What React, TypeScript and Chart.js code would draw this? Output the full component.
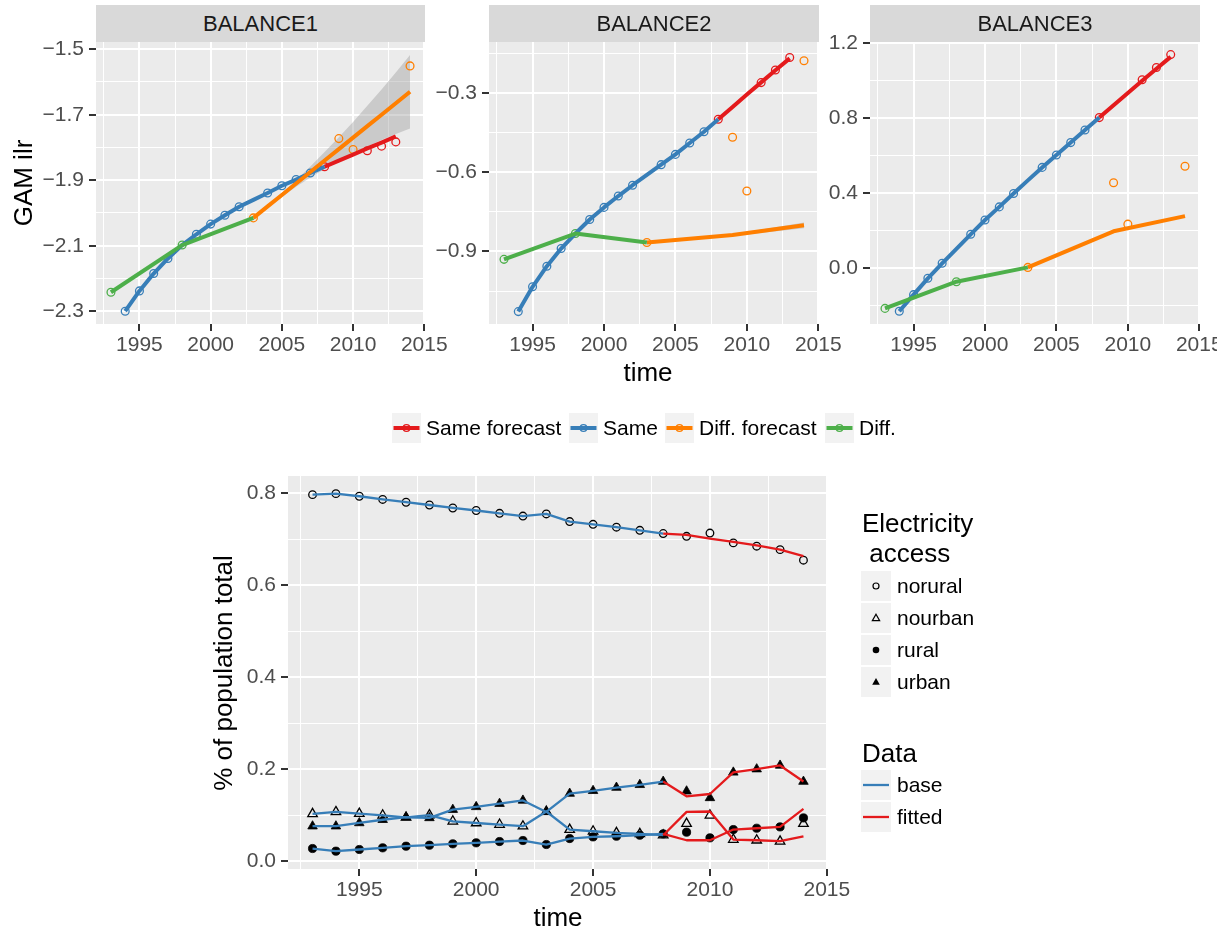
import React, { useEffect, useRef } from 'react';
import { Chart, registerables } from 'chart.js';
Chart.register(...registerables);

const FONT = '"Liberation Sans", Arial, Helvetica, sans-serif';
const RED = '#E41A1C';
const BLUE = '#377EB8';
const ORANGE = '#FF7F00';
const GREEN = '#4DAF4A';

// ---------- shared x axis ----------
const X_MIN = 1991.95;
const X_MAX = 2015.05;
const xMajor = [1995, 2000, 2005, 2010, 2015];
const xMinor = [1992.5, 1997.5, 2002.5, 2007.5, 2012.5];
const xLabels = ['1995', '2000', '2005', '2010', '2015'];

// ---------- top facets ----------
const facetNames = ['BALANCE1', 'BALANCE2', 'BALANCE3'];
const topLegendLabels = ['Same forecast', 'Same', 'Diff. forecast', 'Diff.'];
const topLegendColors = [RED, BLUE, ORANGE, GREEN];

const sameYears = [1994, 1995, 1996, 1997, 1998, 1999, 2000, 2001, 2002, 2003, 2004, 2005, 2006, 2007, 2008];
const samePtYears = [1994, 1995, 1996, 1997, 1999, 2000, 2001, 2002, 2004, 2005, 2006, 2007];
const sameFcYears = [2008, 2009, 2010, 2011, 2012, 2013];
const sameFcPtYears = [2008, 2011, 2012, 2013];
const diffYears = [1993, 1998, 2003];
const diffPtYears = [1993, 1998];
const diffFcPtYears = [2003, 2009, 2010, 2014];

// BALANCE1
const b1Same = [-2.300, -2.238, -2.185, -2.139, -2.098, -2.065, -2.034, -2.007, -1.981, -1.960, -1.939, -1.917, -1.898, -1.878, -1.859];
const b1SamePts = [-2.300, -2.238, -2.185, -2.139, -2.065, -2.034, -2.007, -1.981, -1.939, -1.917, -1.898, -1.878];
const b1SameFc = [-1.859, -1.840, -1.822, -1.803, -1.785, -1.766];
const b1SameFcPts = [-1.859, -1.810, -1.796, -1.783];
const b1Diff = [-2.242, -2.098, -2.015];
const b1DiffPts = [-2.242, -2.098];
const b1DiffFcYears = [2003, 2004, 2005, 2006, 2007, 2008, 2009, 2010, 2011, 2012, 2013, 2014];
const b1DiffFc = [-2.015, -1.980, -1.945, -1.910, -1.875, -1.840, -1.805, -1.770, -1.735, -1.700, -1.665, -1.630];
const b1BandLow = [-2.018, -1.984, -1.951, -1.920, -1.892, -1.866, -1.841, -1.818, -1.797, -1.777, -1.759, -1.742];
const b1BandHigh = [-2.012, -1.976, -1.939, -1.900, -1.858, -1.814, -1.769, -1.722, -1.673, -1.623, -1.571, -1.518];
const b1DiffFcPts = [-2.015, -1.773, -1.806, -1.551];
const b1YMajor = [-2.3, -2.1, -1.9, -1.7, -1.5];
const b1YMinor = [-2.2, -2.0, -1.8, -1.6];
const b1YLabels = ['\u22122.3', '\u22122.1', '\u22121.9', '\u22121.7', '\u22121.5'];

// BALANCE2
const b2Same = [-1.128, -1.034, -0.956, -0.889, -0.832, -0.779, -0.733, -0.690, -0.649, -0.610, -0.571, -0.532, -0.489, -0.446, -0.399];
const b2SamePts = [-1.128, -1.034, -0.956, -0.889, -0.779, -0.733, -0.690, -0.649, -0.571, -0.532, -0.489, -0.446];
const b2SameFc = [-0.399, -0.352, -0.305, -0.259, -0.213, -0.168];
const b2SameFcPts = [-0.399, -0.260, -0.212, -0.165];
const b2Diff = [-0.930, -0.832, -0.866];
const b2DiffPts = [-0.930, -0.832];
const b2DiffFcYears = [2003, 2009, 2014];
const b2DiffFc = [-0.866, -0.838, -0.801];
const b2BandLow = [-0.867, -0.841, -0.812];
const b2BandHigh = [-0.865, -0.835, -0.790];
const b2DiffFcPts = [-0.866, -0.467, -0.671, -0.177];
const b2YMajor = [-0.9, -0.6, -0.3];
const b2YMinor = [-1.05, -0.75, -0.45, -0.15];
const b2YLabels = ['\u22120.9', '\u22120.6', '\u22120.3'];

// BALANCE3
const b3Same = [-0.228, -0.140, -0.053, 0.027, 0.104, 0.181, 0.257, 0.327, 0.398, 0.468, 0.537, 0.603, 0.669, 0.736, 0.802];
const b3SamePts = [-0.228, -0.140, -0.053, 0.027, 0.181, 0.257, 0.327, 0.398, 0.537, 0.603, 0.669, 0.736];
const b3SameFc = [0.802, 0.868, 0.933, 0.998, 1.062, 1.125];
const b3SameFcPts = [0.802, 1.003, 1.068, 1.137];
const b3Diff = [-0.213, -0.071, 0.005];
const b3DiffPts = [-0.213, -0.071];
const b3DiffFcYears = [2003, 2009, 2014];
const b3DiffFc = [0.005, 0.197, 0.278];
const b3BandLow: number[] = [];
const b3BandHigh: number[] = [];
const b3DiffFcPts = [0.005, 0.455, 0.235, 0.543];
const b3YMajor = [0.0, 0.4, 0.8, 1.2];
const b3YMinor = [-0.2, 0.2, 0.6, 1.0];
const b3YLabels = ['0.0', '0.4', '0.8', '1.2'];

// ---------- bottom chart ----------
const years = [1993, 1994, 1995, 1996, 1997, 1998, 1999, 2000, 2001, 2002, 2003, 2004, 2005, 2006, 2007, 2008, 2009, 2010, 2011, 2012, 2013, 2014];
const baseYears = [1993, 1994, 1995, 1996, 1997, 1998, 1999, 2000, 2001, 2002, 2003, 2004, 2005, 2006, 2007, 2008];
const fitYears = [2008, 2009, 2010, 2011, 2012, 2013, 2014];
const norural = [0.7965, 0.7987, 0.793, 0.786, 0.780, 0.774, 0.7675, 0.762, 0.756, 0.750, 0.7545, 0.738, 0.732, 0.7257, 0.719, 0.712, 0.706, 0.713, 0.6916, 0.6845, 0.677, 0.654];
const noruralFit = [0.712, 0.709, 0.701, 0.694, 0.686, 0.677, 0.663];
const nourban = [0.1027, 0.107, 0.1034, 0.0997, 0.095, 0.100, 0.0867, 0.083, 0.0796, 0.076, 0.108, 0.0687, 0.065, 0.0615, 0.0594, 0.0564, 0.0817, 0.0997, 0.047, 0.0455, 0.043, 0.0817];
const nourbanFit = [0.0564, 0.107, 0.108, 0.047, 0.0455, 0.0434, 0.054];
const rural = [0.0275, 0.0217, 0.0254, 0.029, 0.0325, 0.0347, 0.0377, 0.0399, 0.0427, 0.0449, 0.0362, 0.0492, 0.0528, 0.0542, 0.0564, 0.0594, 0.063, 0.0507, 0.0687, 0.0716, 0.0745, 0.094];
const ruralFit = [0.0594, 0.0455, 0.0455, 0.0687, 0.0716, 0.0745, 0.1135];
const urban = [0.076, 0.076, 0.083, 0.090, 0.0955, 0.094, 0.112, 0.118, 0.125, 0.132, 0.107, 0.147, 0.153, 0.160, 0.166, 0.173, 0.152, 0.1375, 0.193, 0.200, 0.208, 0.173];
const urbanFit = [0.173, 0.141, 0.146, 0.193, 0.200, 0.208, 0.173];
const accessLabels = ['norural', 'nourban', 'rural', 'urban'];
const dataLabels = ['base', 'fitted'];
const bYMajor = [0.0, 0.2, 0.4, 0.6, 0.8];
const bYMinor = [0.1, 0.3, 0.5, 0.7];
const bYLabels = ['0.0', '0.2', '0.4', '0.6', '0.8'];

// ---------- layout ----------
const TOP_PLOT_TOP = 42;
const TOP_PLOT_H = 282;
const PAD_T = 20;
const PAD_R = 35;
const YAX_W = 70;
const XAX_H = 45;
const panelLayout = [
  { left: 96, width: 329, yMin: -2.339, yMax: -1.478 },
  { left: 489, width: 330, yMin: -1.175, yMax: -0.106 },
  { left: 870, width: 330, yMin: -0.296, yMax: 1.204 },
];
const BOT = { left: 288, top: 476, width: 540, height: 393, yAx: 80, yMin: -0.017, yMax: 0.837 };

const xy = (xs: number[], ys: number[]) => xs.map((x, i) => ({ x, y: ys[i] }));

const bgPlugin = {
  id: 'panelBg',
  beforeDraw(chart: any) {
    const { ctx, chartArea: a } = chart;
    ctx.save();
    ctx.fillStyle = '#EBEBEB';
    ctx.fillRect(a.left, a.top, a.right - a.left, a.bottom - a.top);
    ctx.restore();
  },
};

function makeAxis(kind: 'x' | 'y', min: number, max: number, majors: number[], minors: number[], labels: string[], fit: number) {
  const all = [...minors, ...majors].sort((a, b) => a - b);
  const isMajor = (v: number) => majors.some((m) => Math.abs(m - v) < 1e-9);
  return {
    type: 'linear',
    position: kind === 'x' ? 'bottom' : 'left',
    min,
    max,
    afterBuildTicks: (s: any) => {
      s.ticks = all.map((v) => ({ value: v }));
    },
    afterFit: (s: any) => {
      if (kind === 'x') s.height = fit;
      else s.width = fit;
    },
    ticks: {
      autoSkip: false,
      maxRotation: 0,
      minRotation: 0,
      padding: kind === 'x' ? 2 : 5,
      color: '#4D4D4D',
      font: { family: FONT, size: 21 },
      callback: (v: number) => {
        const i = majors.findIndex((m) => Math.abs(m - v) < 1e-9);
        return i >= 0 ? labels[i] : '';
      },
    },
    grid: {
      drawOnChartArea: true,
      drawTicks: true,
      tickLength: 7,
      color: '#FFFFFF',
      lineWidth: (c: any) => (c.tick && isMajor(c.tick.value) ? 2 : 1),
      tickColor: (c: any) => (c.tick && isMajor(c.tick.value) ? '#333333' : 'rgba(0,0,0,0)'),
      tickWidth: 2,
    },
    border: { display: false },
  };
}

const lineDs = (data: any[], color: string, order: number, width = 4) => ({
  data,
  borderColor: color,
  backgroundColor: color,
  borderWidth: width,
  pointRadius: 0,
  fill: false,
  order,
  borderCapStyle: 'butt',
  borderJoinStyle: 'round',
});

const ptDs = (data: any[], color: string, order: number) => ({
  data,
  showLine: false,
  pointRadius: 3.9,
  pointBorderWidth: 1.3,
  pointBorderColor: color,
  pointBackgroundColor: 'rgba(0,0,0,0)',
  borderColor: color,
  backgroundColor: 'rgba(0,0,0,0)',
  fill: false,
  order,
});

const panelData = [
  { same: b1Same, samePts: b1SamePts, sameFc: b1SameFc, sameFcPts: b1SameFcPts, diff: b1Diff, diffPts: b1DiffPts, diffFcYears: b1DiffFcYears, diffFc: b1DiffFc, bandLow: b1BandLow, bandHigh: b1BandHigh, diffFcPts: b1DiffFcPts, yMajor: b1YMajor, yMinor: b1YMinor, yLabels: b1YLabels },
  { same: b2Same, samePts: b2SamePts, sameFc: b2SameFc, sameFcPts: b2SameFcPts, diff: b2Diff, diffPts: b2DiffPts, diffFcYears: b2DiffFcYears, diffFc: b2DiffFc, bandLow: b2BandLow, bandHigh: b2BandHigh, diffFcPts: b2DiffFcPts, yMajor: b2YMajor, yMinor: b2YMinor, yLabels: b2YLabels },
  { same: b3Same, samePts: b3SamePts, sameFc: b3SameFc, sameFcPts: b3SameFcPts, diff: b3Diff, diffPts: b3DiffPts, diffFcYears: b3DiffFcYears, diffFc: b3DiffFc, bandLow: b3BandLow, bandHigh: b3BandHigh, diffFcPts: b3DiffFcPts, yMajor: b3YMajor, yMinor: b3YMinor, yLabels: b3YLabels },
];

function panelConfig(i: number): any {
  const p = panelData[i];
  const L = panelLayout[i];
  const datasets: any[] = [];
  if (p.bandLow.length) {
    datasets.push({ data: xy(p.diffFcYears, p.bandLow), borderWidth: 0, pointRadius: 0, fill: false, order: 40, borderColor: 'rgba(0,0,0,0)' });
    datasets.push({ data: xy(p.diffFcYears, p.bandHigh), borderWidth: 0, pointRadius: 0, fill: '-1', backgroundColor: 'rgba(153,153,153,0.4)', borderColor: 'rgba(0,0,0,0)', order: 40 });
  }
  datasets.push(ptDs(xy(sameFcPtYears, p.sameFcPts), RED, 30));
  datasets.push(ptDs(xy(samePtYears, p.samePts), BLUE, 30));
  datasets.push(ptDs(xy(diffFcPtYears, p.diffFcPts), ORANGE, 30));
  datasets.push(ptDs(xy(diffPtYears, p.diffPts), GREEN, 30));
  datasets.push(lineDs(xy(sameFcYears, p.sameFc), RED, 14));
  datasets.push(lineDs(xy(sameYears, p.same), BLUE, 13));
  datasets.push(lineDs(xy(p.diffFcYears, p.diffFc), ORANGE, 12));
  datasets.push(lineDs(xy(diffYears, p.diff), GREEN, 11));
  return {
    type: 'line',
    data: { datasets },
    plugins: [bgPlugin],
    options: {
      animation: false,
      responsive: false,
      events: [],
      layout: { padding: { top: PAD_T, right: PAD_R, left: 0, bottom: 0 } },
      plugins: { legend: { display: false }, tooltip: { enabled: false }, title: { display: false } },
      scales: {
        x: makeAxis('x', X_MIN, X_MAX, xMajor, xMinor, xLabels, XAX_H),
        y: makeAxis('y', L.yMin, L.yMax, p.yMajor, p.yMinor, p.yLabels, YAX_W),
      },
    },
  };
}

function bottomConfig(): any {
  const cats = [
    { obs: norural, fit: noruralFit, style: 'circle', filled: false, r: 3.8 },
    { obs: nourban, fit: nourbanFit, style: 'triangle', filled: false, r: 5.5 },
    { obs: rural, fit: ruralFit, style: 'circle', filled: true, r: 4.1 },
    { obs: urban, fit: urbanFit, style: 'triangle', filled: true, r: 5.5 },
  ];
  const datasets: any[] = [];
  cats.forEach((c) => {
    datasets.push({
      data: xy(years, c.obs),
      showLine: false,
      pointStyle: c.style,
      pointRadius: c.r,
      pointBorderWidth: c.filled ? 0.8 : 1.3,
      pointBorderColor: '#000000',
      pointBackgroundColor: c.filled ? '#000000' : 'rgba(0,0,0,0)',
      borderColor: '#000000',
      backgroundColor: 'rgba(0,0,0,0)',
      fill: false,
      order: 10,
    });
  });
  cats.forEach((c) => {
    datasets.push(lineDs(xy(baseYears, c.obs.slice(0, baseYears.length)), BLUE, 2, 2.3));
    datasets.push(lineDs(xy(fitYears, c.fit), RED, 1, 2.3));
  });
  return {
    type: 'line',
    data: { datasets },
    plugins: [bgPlugin],
    options: {
      animation: false,
      responsive: false,
      events: [],
      layout: { padding: { top: PAD_T, right: PAD_R, left: 0, bottom: 0 } },
      plugins: { legend: { display: false }, tooltip: { enabled: false }, title: { display: false } },
      scales: {
        x: makeAxis('x', X_MIN, X_MAX, xMajor, xMinor, xLabels, XAX_H),
        y: makeAxis('y', BOT.yMin, BOT.yMax, bYMajor, bYMinor, bYLabels, BOT.yAx),
      },
    },
  };
}

const abs = (extra: any) => ({ position: 'absolute' as const, ...extra });

const topKeyX = [392, 569, 665, 825];
const TOP_KEY_Y = 413;
const rightKeyY = [571, 603, 635, 667];
const dataKeyY = [770, 802];
const RIGHT_KEY_X = 861;

export default function App() {
  const r0 = useRef<HTMLCanvasElement>(null);
  const r1 = useRef<HTMLCanvasElement>(null);
  const r2 = useRef<HTMLCanvasElement>(null);
  const r3 = useRef<HTMLCanvasElement>(null);
  useEffect(() => {
    const charts = [
      new Chart(r0.current as any, panelConfig(0)),
      new Chart(r1.current as any, panelConfig(1)),
      new Chart(r2.current as any, panelConfig(2)),
      new Chart(r3.current as any, bottomConfig()),
    ];
    return () => charts.forEach((c) => c.destroy());
  }, []);
  const refs = [r0, r1, r2];

  const triPts = (cx: number, cy: number, r: number) =>
    [0, 1, 2].map((k) => {
      const a = -Math.PI / 2 + (k * 2 * Math.PI) / 3;
      return `${cx + r * Math.cos(a)},${cy + r * Math.sin(a)}`;
    }).join(' ');

  return (
    <div style={abs({ left: 0, top: 0, width: 1217, height: 930, overflow: 'hidden', background: '#FFFFFF', fontFamily: FONT })}>
      {panelLayout.map((L, i) => {
        const w = YAX_W + L.width + PAD_R;
        const h = PAD_T + TOP_PLOT_H + XAX_H;
        return (
          <canvas key={'c' + i} ref={refs[i]} width={w} height={h} style={abs({ left: L.left - YAX_W, top: TOP_PLOT_TOP - PAD_T, width: w, height: h })} />
        );
      })}
      {panelLayout.map((L, i) => (
        <div key={'s' + i} style={abs({ left: L.left, top: 5, width: L.width, height: 37, lineHeight: '37px', background: '#D9D9D9', color: '#1A1A1A', fontSize: 22, textAlign: 'center', zIndex: 2 })}>
          {facetNames[i]}
        </div>
      ))}
      <canvas ref={r3} width={BOT.yAx + BOT.width + PAD_R} height={PAD_T + BOT.height + XAX_H} style={abs({ left: BOT.left - BOT.yAx, top: BOT.top - PAD_T, width: BOT.yAx + BOT.width + PAD_R, height: PAD_T + BOT.height + XAX_H })} />

      {/* axis titles */}
      <div style={abs({ left: 22.5 - 150, top: 183 - 15, width: 300, height: 30, lineHeight: '30px', fontSize: 26, textAlign: 'center', transform: 'rotate(-90deg)', color: '#000' })}>GAM ilr</div>
      <div style={abs({ left: 648 - 150, top: 357, width: 300, height: 30, lineHeight: '30px', fontSize: 26, textAlign: 'center', color: '#000' })}>time</div>
      <div style={abs({ left: 223 - 200, top: 672.5 - 15, width: 400, height: 30, lineHeight: '30px', fontSize: 26, textAlign: 'center', transform: 'rotate(-90deg)', color: '#000' })}>% of population total</div>
      <div style={abs({ left: 558 - 150, top: 902, width: 300, height: 30, lineHeight: '30px', fontSize: 26, textAlign: 'center', color: '#000' })}>time</div>

      {/* legend glyphs */}
      <svg width={1217} height={930} style={abs({ left: 0, top: 0, pointerEvents: 'none' })}>
        {topKeyX.map((x, i) => (
          <g key={'tk' + i}>
            <rect x={x} y={TOP_KEY_Y} width={29} height={30} fill="#F2F2F2" />
            <line x1={x + 1.5} x2={x + 27.5} y1={TOP_KEY_Y + 15} y2={TOP_KEY_Y + 15} stroke={topLegendColors[i]} strokeWidth={4} />
            <circle cx={x + 14.5} cy={TOP_KEY_Y + 15} r={3.4} fill="none" stroke={topLegendColors[i]} strokeWidth={1.3} />
          </g>
        ))}
        {rightKeyY.map((y, i) => (
          <rect key={'rk' + i} x={RIGHT_KEY_X} y={y} width={30} height={30} fill="#F2F2F2" />
        ))}
        <circle cx={RIGHT_KEY_X + 15} cy={rightKeyY[0] + 15} r={3} fill="none" stroke="#000" strokeWidth={1.2} />
        <polygon points={triPts(RIGHT_KEY_X + 15, rightKeyY[1] + 15.5, 4.2)} fill="none" stroke="#000" strokeWidth={1.2} />
        <circle cx={RIGHT_KEY_X + 15} cy={rightKeyY[2] + 15} r={3.3} fill="#000" />
        <polygon points={triPts(RIGHT_KEY_X + 15, rightKeyY[3] + 15.5, 4.4)} fill="#000" />
        {dataKeyY.map((y, i) => (
          <g key={'dk' + i}>
            <rect x={RIGHT_KEY_X} y={y} width={30} height={30} fill="#F2F2F2" />
            <line x1={RIGHT_KEY_X + 2} x2={RIGHT_KEY_X + 28} y1={y + 15} y2={y + 15} stroke={i === 0 ? BLUE : RED} strokeWidth={2.3} />
          </g>
        ))}
      </svg>

      {/* legend texts */}
      {topKeyX.map((x, i) => (
        <div key={'tt' + i} style={abs({ left: x + 34, top: TOP_KEY_Y, height: 30, lineHeight: '30px', fontSize: 21, whiteSpace: 'nowrap', color: '#000' })}>
          {topLegendLabels[i]}
        </div>
      ))}
      <div style={abs({ left: 862, top: 508, lineHeight: '30px', fontSize: 26, whiteSpace: 'pre', color: '#000' })}>{'Electricity\n access'}</div>
      {rightKeyY.map((y, i) => (
        <div key={'rt' + i} style={abs({ left: RIGHT_KEY_X + 36, top: y, height: 30, lineHeight: '30px', fontSize: 21, whiteSpace: 'nowrap', color: '#000' })}>
          {accessLabels[i]}
        </div>
      ))}
      <div style={abs({ left: 862, top: 738, lineHeight: '30px', fontSize: 26, whiteSpace: 'pre', color: '#000' })}>Data</div>
      {dataKeyY.map((y, i) => (
        <div key={'dt' + i} style={abs({ left: RIGHT_KEY_X + 36, top: y, height: 30, lineHeight: '30px', fontSize: 21, whiteSpace: 'nowrap', color: '#000' })}>
          {dataLabels[i]}
        </div>
      ))}
    </div>
  );
}
